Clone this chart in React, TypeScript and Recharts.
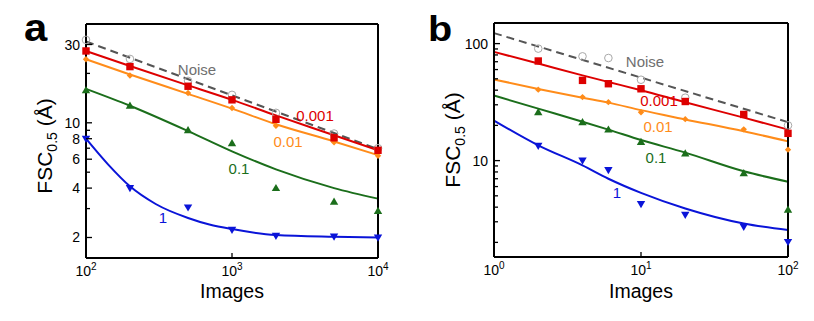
import React from "react";
import { LineChart, Line, XAxis, YAxis } from "recharts";

// panel a: images 10^2..10^4
const aN = [100, 200, 500, 1000, 2000, 5000, 10000];
const aNoise = [32, 24.5, 18.0, 14.8, 11.5, 8.6, 7.0];
const aRed = [27.4, 22.0, 16.7, 13.8, 10.5, 8.1, 6.8];
const aOrange = [24.4, 19.4, 15.2, 12.3, 9.6, 7.6, 6.3];
const aGreen = [15.8, 12.7, 9.0, 7.5, 4.0, 3.3, 2.9];
const aBlue = [8.0, 4.0, 3.05, 2.23, 2.05, 2.03, 2.0];

const aNoiseFitN = [100, 10000];
const aNoiseFit = [31.3, 6.9];
const aFitN = [100, 200, 500, 1000, 2000, 5000, 10000];
const aRedFit = [27.4, 22.2, 16.9, 13.8, 11.1, 8.4, 6.8];
const aOrangeFit = [24.4, 19.7, 15.0, 12.2, 9.8, 7.7, 6.35];
const aGreenFit = [16.1, 12.7, 8.9, 6.7, 5.2, 4.0, 3.45];
const aBlueFitN = [100, 141, 200, 300, 500, 700, 1000, 2000, 5000, 10000];
const aBlueFit = [8.0, 5.6, 4.1, 3.2, 2.63, 2.4, 2.25, 2.07, 2.02, 2.0];

// panel b: images 10^0..10^2
const bN = [2, 4, 6, 10, 20, 50, 100];
const bNoiseN = [2, 4, 6, 10, 20, 100];
const bNoise = [90.6, 77.8, 75.3, 49.1, 34.5, 20];
const bRed = [71, 48.5, 45.4, 41.1, 32, 24.8, 17.1];
const bOrange = [40.4, 34.9, 31.6, 25.9, 22.6, 18.5, 12.4];
const bGreen = [25.9, 21.3, 18.4, 14.4, 11.5, 7.8, 3.8];
const bBlue = [13.4, 10, 8.3, 4.26, 3.45, 2.72, 2.02];

const bNoiseFitN = [1, 100];
const bNoiseFit = [123, 21.3];
const bFitN = [1, 2, 4, 6, 10, 20, 50, 100];
const bRedFit = [85, 67.5, 53.5, 47, 40, 31.5, 23.3, 18.4];
const bOrangeFit = [49.4, 41, 34.5, 31.3, 27, 22.5, 17.8, 14.6];
const bGreenFit = [36, 27.8, 21.5, 18.4, 15.0, 11.7, 8.1, 6.6];
const bBlueFit = [22, 13.5, 9.1, 7.0, 5.3, 3.9, 2.9, 2.55];

const aYTicks = [2, 3, 4, 5, 6, 7, 8, 9, 10, 20, 30];
const aYLabels = [2, 4, 6, 8, 10, 30];
const bYTicks = [2, 3, 4, 5, 6, 7, 8, 9, 10, 20, 30, 40, 50, 60, 70, 80, 90, 100];
const bYLabels = [10, 100];

const RED = "#dd0000";
const ORANGE = "#ff8c1a";
const GREEN = "#1b6e1b";
const BLUE = "#0a14d8";
const NOISE = "#555555";
const FONT = "'Liberation Sans', Arial, Helvetica, sans-serif";

const pts = (ns: number[], vs: number[]) => ns.map((n, i) => ({ n, v: vs[i] }));

type Shape = "square" | "diamond" | "up" | "down" | "circle";
function dot(shape: Shape, color: string) {
  return (p: any) => {
    const { cx, cy, index } = p;
    const k = `d${index}`;
    if (cx == null || cy == null) return <g key={k} />;
    if (shape === "square") return <rect key={k} x={cx - 3.7} y={cy - 3.7} width={7.4} height={7.4} fill={color} />;
    if (shape === "diamond")
      return <path key={k} d={`M${cx},${cy - 3.2}L${cx + 3.2},${cy}L${cx},${cy + 3.2}L${cx - 3.2},${cy}Z`} fill={color} />;
    if (shape === "up")
      return <path key={k} d={`M${cx},${cy - 4.2}L${cx + 4.2},${cy + 3}L${cx - 4.2},${cy + 3}Z`} fill={color} />;
    if (shape === "down")
      return <path key={k} d={`M${cx},${cy + 4.2}L${cx + 4.2},${cy - 3}L${cx - 4.2},${cy - 3}Z`} fill={color} />;
    return <circle key={k} cx={cx} cy={cy} r={3.8} fill="none" stroke="#a8a8a8" strokeWidth={1} />;
  };
}

const leftTick = (labels: number[]) => (p: any) => {
  const v = p.payload.value;
  const major = labels.includes(v);
  return (
    <g key={`l${v}`}>
      <line x1={p.x} x2={p.x + (major ? 6 : 4)} y1={p.y} y2={p.y} stroke="#000" strokeWidth={1.3} />
      {major && (
        <text x={p.x - 6} y={p.y + 5} textAnchor="end" fontSize={14} fontFamily={FONT} fill="#000">
          {v}
        </text>
      )}
    </g>
  );
};
const rightTick = (labels: number[]) => (p: any) => {
  const v = p.payload.value;
  const major = labels.includes(v);
  return <line key={`r${v}`} x1={p.x - (major ? 6 : 4)} x2={p.x} y1={p.y} y2={p.y} stroke="#000" strokeWidth={1.3} />;
};
const bottomTick = (p: any) => {
  const v = p.payload.value;
  const e = Math.round(Math.log10(v));
  return (
    <g key={`b${v}`}>
      <line x1={p.x} x2={p.x} y1={p.y - 5} y2={p.y} stroke="#000" strokeWidth={1.3} />
      <text x={p.x} y={p.y + 18} textAnchor="middle" fontSize={14} fontFamily={FONT} fill="#000">
        10<tspan fontSize={10} dy={-6}>{e}</tspan>
      </text>
    </g>
  );
};
const topTick = (p: any) => (
  <line key={`t${p.payload.value}`} x1={p.x} x2={p.x} y1={p.y} y2={p.y + 5} stroke="#000" strokeWidth={1.3} />
);

const frame = { stroke: "#000", strokeWidth: 2 };

function Panel(props: {
  width: number;
  left: number;
  right: number;
  top: number;
  bottom: number;
  xDomain: [number, number];
  xTicks: number[];
  yDomain: [number, number];
  yTicks: number[];
  yLabels: number[];
  series: { data: { n: number; v: number }[]; color: string; dashed?: boolean; shape?: Shape }[];
}) {
  const { width, left, right, top, bottom, xDomain, xTicks, yDomain, yTicks, yLabels, series } = props;
  return (
    <LineChart width={width} height={321} margin={{ top: 0, right: 0, bottom: 0, left: 0 }}>
      <XAxis xAxisId="b" dataKey="n" type="number" scale="log" domain={xDomain} ticks={xTicks}
        interval={0} height={bottom} tickSize={0} tickMargin={0} tickLine={false} axisLine={frame} tick={bottomTick} />
      <XAxis xAxisId="t" orientation="top" dataKey="n" type="number" scale="log" domain={xDomain}
        ticks={xTicks} interval={0} height={top} tickSize={0} tickMargin={0} tickLine={false} axisLine={frame} tick={topTick} />
      <YAxis yAxisId="l" type="number" scale="log" domain={yDomain} ticks={yTicks} interval={0}
        width={left} tickSize={0} tickMargin={0} tickLine={false} axisLine={frame} tick={leftTick(yLabels)} />
      <YAxis yAxisId="r" orientation="right" type="number" scale="log" domain={yDomain} ticks={yTicks}
        interval={0} width={right} tickSize={0} tickMargin={0} tickLine={false} axisLine={frame} tick={rightTick(yLabels)} />
      {series.map((s, i) => (
        <Line key={i} xAxisId="b" yAxisId="l" data={s.data} dataKey="v" type={s.shape ? "linear" : "monotone"}
          stroke={s.shape ? "none" : s.color} strokeWidth={2} strokeDasharray={s.dashed ? "8 5" : undefined}
          dot={s.shape ? dot(s.shape, s.color) : false} activeDot={false} isAnimationActive={false} />
      ))}
    </LineChart>
  );
}

export default function App() {
  const aSeries = [
    { data: pts(aNoiseFitN, aNoiseFit), color: NOISE, dashed: true },
    { data: pts(aN, aNoise), color: NOISE, shape: "circle" as Shape },
    { data: pts(aBlueFitN, aBlueFit), color: BLUE },
    { data: pts(aN, aBlue), color: BLUE, shape: "down" as Shape },
    { data: pts(aFitN, aGreenFit), color: GREEN },
    { data: pts(aN, aGreen), color: GREEN, shape: "up" as Shape },
    { data: pts(aFitN, aOrangeFit), color: ORANGE },
    { data: pts(aN, aOrange), color: ORANGE, shape: "diamond" as Shape },
    { data: pts(aFitN, aRedFit), color: RED },
    { data: pts(aN, aRed), color: RED, shape: "square" as Shape },
  ];
  const bSeries = [
    { data: pts(bNoiseFitN, bNoiseFit), color: NOISE, dashed: true },
    { data: pts(bNoiseN, bNoise), color: NOISE, shape: "circle" as Shape },
    { data: pts(bFitN, bBlueFit), color: BLUE },
    { data: pts(bN, bBlue), color: BLUE, shape: "down" as Shape },
    { data: pts(bFitN, bGreenFit), color: GREEN },
    { data: pts(bN, bGreen), color: GREEN, shape: "up" as Shape },
    { data: pts(bFitN, bOrangeFit), color: ORANGE },
    { data: pts(bN, bOrange), color: ORANGE, shape: "diamond" as Shape },
    { data: pts(bFitN, bRedFit), color: RED },
    { data: pts(bN, bRed), color: RED, shape: "square" as Shape },
  ];

  const lbl = (x: number, y: number, t: string, c: string) => (
    <text x={x} y={y} textAnchor="middle" fontSize={15} fill={c}>{t}</text>
  );

  return (
    <div style={{ position: "absolute", left: 0, top: 0, width: 814, height: 321, background: "#fff", fontFamily: FONT }}>
      <div style={{ position: "absolute", left: 0, top: 0 }}>
        <Panel width={410} left={86} right={32} top={24} bottom={63} xDomain={[100, 10000]} xTicks={[100, 1000, 10000]}
          yDomain={[1.5, 40]} yTicks={aYTicks} yLabels={aYLabels} series={aSeries} />
      </div>
      <div style={{ position: "absolute", left: 410, top: 0 }}>
        <Panel width={404} left={84} right={26} top={23} bottom={64} xDomain={[1, 100]} xTicks={[1, 10, 100]}
          yDomain={[1.5, 150]} yTicks={bYTicks} yLabels={bYLabels} series={bSeries} />
      </div>
      <svg width={814} height={321} style={{ position: "absolute", left: 0, top: 0, pointerEvents: "none" }} fontFamily={FONT}>
        <text x={24} y={40.7} fontSize={38} fontWeight="bold" transform="translate(24,0) scale(1.1,1) translate(-24,0)">a</text>
        <text x={428} y={40.7} fontSize={36} fontWeight="bold" transform="translate(428,0) scale(1.1,1) translate(-428,0)">b</text>

        <text transform="translate(52,146) rotate(-90)" textAnchor="middle" fontSize={21}>
          FSC<tspan fontSize={14} dy={5}>0.5</tspan><tspan dy={-5}> (Å)</tspan>
        </text>
        <text transform="translate(460,140) rotate(-90)" textAnchor="middle" fontSize={21}>
          FSC<tspan fontSize={14} dy={5}>0.5</tspan><tspan dy={-5}> (Å)</tspan>
        </text>
        <text x={232} y={298} textAnchor="middle" fontSize={19.5}>Images</text>
        <text x={641} y={298} textAnchor="middle" fontSize={19.5}>Images</text>

        {lbl(197, 74.5, "Noise", "#707070")}
        {lbl(315, 120.5, "0.001", RED)}
        {lbl(288, 146.7, "0.01", ORANGE)}
        {lbl(239, 174, "0.1", GREEN)}
        {lbl(163, 223, "1", BLUE)}

        {lbl(645, 66.7, "Noise", "#707070")}
        {lbl(659, 106, "0.001", RED)}
        {lbl(658, 131.7, "0.01", ORANGE)}
        {lbl(656, 163.3, "0.1", GREEN)}
        {lbl(617, 198.3, "1", BLUE)}
      </svg>
    </div>
  );
}
